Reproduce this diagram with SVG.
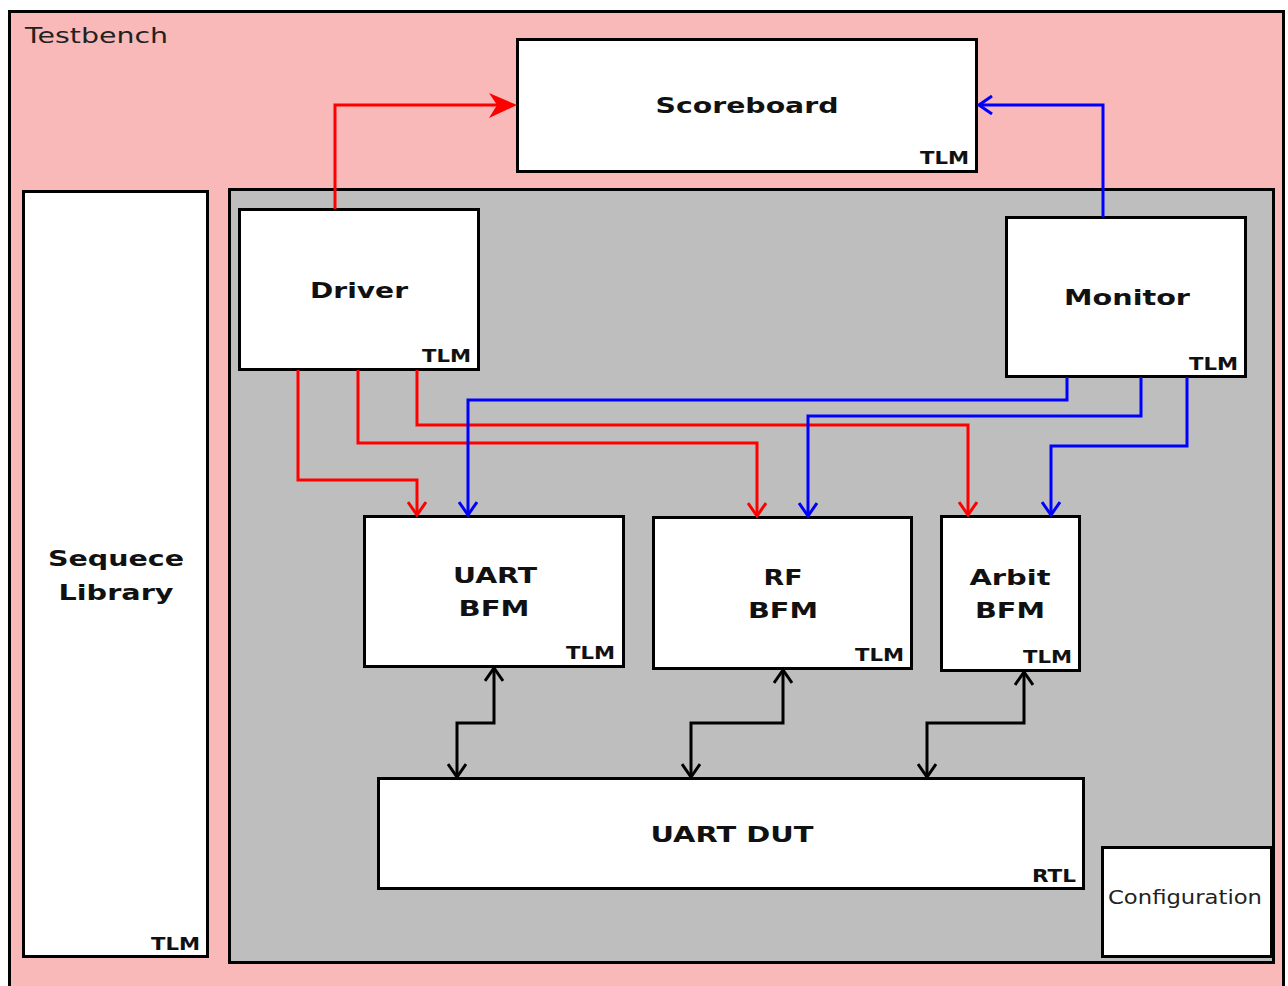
<svg xmlns="http://www.w3.org/2000/svg" width="1288" height="986" viewBox="0 0 1288 986">
<style>
.box{fill:#fff;stroke:#000;stroke-width:3}
.b{font-family:"DejaVu Sans",sans-serif;font-weight:bold;font-size:22px;fill:#111;text-anchor:middle}
.t{font-family:"DejaVu Sans",sans-serif;font-weight:bold;font-size:17px;fill:#111;text-anchor:end}
.r{font-family:"DejaVu Sans",sans-serif;font-size:22px;fill:#222}
.cr{fill:none;stroke:#f00;stroke-width:3}
.cb{fill:none;stroke:#00f;stroke-width:3}
.ck{fill:none;stroke:#000;stroke-width:3}
</style>
<defs>
<marker id="vr" markerUnits="userSpaceOnUse" viewBox="0 0 16 20" refX="14" refY="10" markerWidth="16" markerHeight="20" orient="auto"><path d="M1,1 L14,10 L1,19" fill="none" stroke="#f00" stroke-width="3"/></marker>
<marker id="vb" markerUnits="userSpaceOnUse" viewBox="0 0 16 20" refX="14" refY="10" markerWidth="16" markerHeight="20" orient="auto"><path d="M1,1 L14,10 L1,19" fill="none" stroke="#00f" stroke-width="3"/></marker>
<marker id="vk" markerUnits="userSpaceOnUse" viewBox="0 0 16 20" refX="14" refY="10" markerWidth="16" markerHeight="20" orient="auto-start-reverse"><path d="M1,1 L14,10 L1,19" fill="none" stroke="#000" stroke-width="3"/></marker>
</defs>
<rect x="0" y="0" width="1288" height="986" fill="#fff"/>
<g id="testbench">
<rect x="9.5" y="11.5" width="1274" height="990" fill="#f9b9b9" stroke="#000" stroke-width="3"/>
<text class="r" x="25" y="43" textLength="143" lengthAdjust="spacingAndGlyphs">Testbench</text>
</g>
<g id="env">
<rect x="229.5" y="189.5" width="1044" height="773" fill="#bebebe" stroke="#000" stroke-width="3"/>
</g>
<g id="scoreboard">
<rect class="box" x="517.5" y="39.5" width="459" height="132"/>
<text class="b" x="747" y="113" textLength="183" lengthAdjust="spacingAndGlyphs">Scoreboard</text>
<text class="t" x="969" y="164" textLength="49" lengthAdjust="spacingAndGlyphs">TLM</text>
</g>
<g id="sequence-library">
<rect class="box" x="23.5" y="191.5" width="184" height="765"/>
<text class="b" x="116" y="566" textLength="136" lengthAdjust="spacingAndGlyphs">Sequece</text>
<text class="b" x="116" y="600" textLength="115" lengthAdjust="spacingAndGlyphs">Library</text>
<text class="t" x="200" y="950" textLength="49" lengthAdjust="spacingAndGlyphs">TLM</text>
</g>
<g id="driver">
<rect class="box" x="239.5" y="209.5" width="239" height="160"/>
<text class="b" x="359" y="298" textLength="98" lengthAdjust="spacingAndGlyphs">Driver</text>
<text class="t" x="471" y="362" textLength="49" lengthAdjust="spacingAndGlyphs">TLM</text>
</g>
<g id="monitor">
<rect class="box" x="1006.5" y="217.5" width="239" height="159"/>
<text class="b" x="1127" y="305" textLength="126" lengthAdjust="spacingAndGlyphs">Monitor</text>
<text class="t" x="1238" y="370" textLength="49" lengthAdjust="spacingAndGlyphs">TLM</text>
</g>
<g id="uart-bfm">
<rect class="box" x="364.5" y="516.5" width="259" height="150"/>
<text class="b" x="495" y="583" textLength="84" lengthAdjust="spacingAndGlyphs">UART</text>
<text class="b" x="494" y="616" textLength="71" lengthAdjust="spacingAndGlyphs">BFM</text>
<text class="t" x="615" y="659" textLength="49" lengthAdjust="spacingAndGlyphs">TLM</text>
</g>
<g id="rf-bfm">
<rect class="box" x="653.5" y="517.5" width="258" height="151"/>
<text class="b" x="783" y="585" textLength="39" lengthAdjust="spacingAndGlyphs">RF</text>
<text class="b" x="783" y="618" textLength="70" lengthAdjust="spacingAndGlyphs">BFM</text>
<text class="t" x="904" y="661" textLength="49" lengthAdjust="spacingAndGlyphs">TLM</text>
</g>
<g id="arbit-bfm">
<rect class="box" x="941.5" y="516.5" width="138" height="154"/>
<text class="b" x="1010" y="585" textLength="81" lengthAdjust="spacingAndGlyphs">Arbit</text>
<text class="b" x="1010" y="618" textLength="70" lengthAdjust="spacingAndGlyphs">BFM</text>
<text class="t" x="1072" y="663" textLength="49" lengthAdjust="spacingAndGlyphs">TLM</text>
</g>
<g id="uart-dut">
<rect class="box" x="378.5" y="778.5" width="705" height="110"/>
<text class="b" x="732" y="842" textLength="163" lengthAdjust="spacingAndGlyphs">UART DUT</text>
<text class="t" x="1076" y="882" textLength="44" lengthAdjust="spacingAndGlyphs">RTL</text>
</g>
<g id="configuration">
<rect class="box" x="1102.5" y="847.5" width="169" height="109"/>
<text class="r" x="1185" y="904" style="font-size:19px;text-anchor:middle" textLength="154" lengthAdjust="spacingAndGlyphs">Configuration</text>
</g>
<g id="connectors">
<path class="cr" d="M335,209 V105 H497"/>
<path d="M517,105 L489,93 L497,105 L489,118 Z" fill="#f00"/>
<path class="cb" d="M1103,217 V105 H979" marker-end="url(#vb)"/>
<path class="cr" d="M298,370 V480 H417 V515" marker-end="url(#vr)"/>
<path class="cr" d="M358,370 V443 H757 V516" marker-end="url(#vr)"/>
<path class="cr" d="M417,370 V425 H968 V515" marker-end="url(#vr)"/>
<path class="cb" d="M1067,377 V400 H468 V515" marker-end="url(#vb)"/>
<path class="cb" d="M1141,377 V416 H808 V516" marker-end="url(#vb)"/>
<path class="cb" d="M1187,377 V446 H1051 V515" marker-end="url(#vb)"/>
<path class="ck" d="M494,668 V723 H457 V777" marker-start="url(#vk)" marker-end="url(#vk)"/>
<path class="ck" d="M783,670 V723 H691 V777" marker-start="url(#vk)" marker-end="url(#vk)"/>
<path class="ck" d="M1024,672 V723 H927 V777" marker-start="url(#vk)" marker-end="url(#vk)"/>
</g>
</svg>
